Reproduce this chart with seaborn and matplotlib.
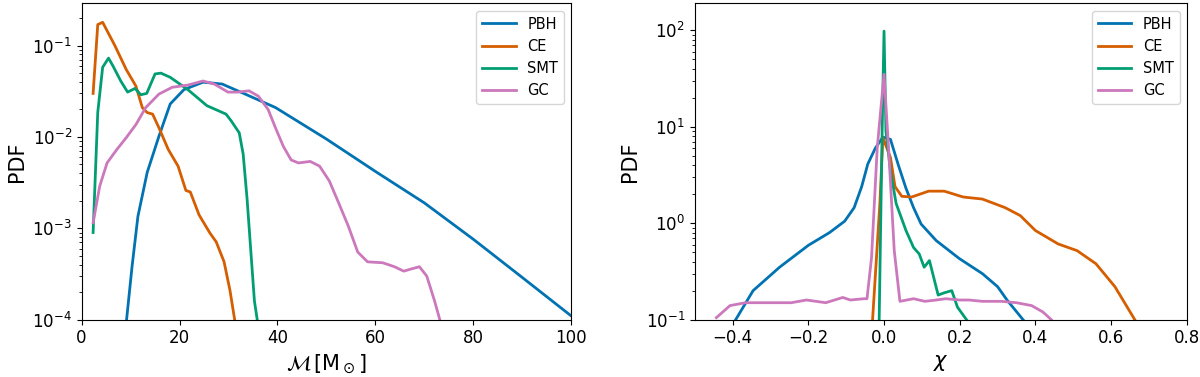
import numpy as np
import pandas as pd
import matplotlib
matplotlib.use("Agg")
import matplotlib.pyplot as plt
import seaborn as sns

# chirp mass distributions (M_sun, PDF)
pbh_m = [9.0, 10.3, 11.5, 13.4, 15.8, 18.1, 20.9, 24.8, 28.7, 33.4, 39.6, 50, 60, 70, 80, 90, 100]
pbh_pdf = [8e-5, 3.8e-4, 1.35e-3, 4.1e-3, 1.02e-2, 2.3e-2, 3.3e-2, 3.98e-2, 3.8e-2, 2.95e-2, 2.1e-2,
           9.5e-3, 4.2e-3, 1.9e-3, 7.6e-4, 2.9e-4, 1.1e-4]

ce_m = [2.35, 3.3, 4.3, 6.8, 9.1, 11.1, 12.4, 13.4, 14.5, 15.8, 17.7, 19.7, 21.3, 22.2, 24.0,
        26.2, 27.5, 29.1, 30.3, 31.4]
ce_pdf = [0.030, 0.17, 0.18, 0.10, 0.055, 0.036, 0.021, 0.0185, 0.0178, 0.0126, 0.0073, 0.0048,
          0.0026, 0.0025, 0.0014, 8.9e-4, 7.1e-4, 4.3e-4, 2.1e-4, 9e-5]

smt_m = [2.35, 3.3, 4.3, 5.5, 6.4, 8.0, 9.4, 10.9, 12.1, 13.3, 15.0, 16.2, 18.1, 21.7, 25.6,
         29.5, 30.6, 32.2, 33.0, 33.8, 34.6, 35.3, 36.0]
smt_pdf = [9e-4, 0.0186, 0.058, 0.073, 0.060, 0.041, 0.031, 0.034, 0.029, 0.030, 0.049, 0.050,
           0.045, 0.033, 0.022, 0.0178, 0.0149, 0.0111, 0.0065, 0.0021, 5.3e-4, 1.6e-4, 9e-5]

gc_m = [2.35, 3.7, 5.2, 7.2, 9.1, 11.1, 13.1, 15.8, 18.5, 21.7, 24.8, 27.1, 29.9, 31.8, 34.2,
        36.1, 38.1, 39.6, 41.2, 42.8, 44.3, 46.7, 48.6, 50.6, 52.5, 54.5, 56.4, 58.4, 61.5,
        63.9, 65.8, 67.4, 69.0, 70.5, 72.1, 73.4]
gc_pdf = [0.00115, 0.0029, 0.0052, 0.0073, 0.0098, 0.0137, 0.021, 0.0295, 0.035, 0.037, 0.041,
          0.038, 0.031, 0.031, 0.032, 0.028, 0.020, 0.0126, 0.0079, 0.0056, 0.0052, 0.0054,
          0.0048, 0.0033, 0.0019, 0.00105, 5.5e-4, 4.3e-4, 4.2e-4, 3.8e-4, 3.4e-4, 3.6e-4,
          3.8e-4, 3.0e-4, 1.6e-4, 9e-5]

# effective spin distributions (chi, PDF)
pbh_chi = [-0.392, -0.346, -0.276, -0.20, -0.144, -0.104, -0.079, -0.059, -0.043, -0.023, -0.003,
           0.017, 0.037, 0.058, 0.078, 0.098, 0.138, 0.199, 0.26, 0.30, 0.326, 0.372]
pbh_chi_pdf = [0.1, 0.20, 0.35, 0.59, 0.80, 1.05, 1.45, 2.4, 4.1, 6.0, 7.8, 7.4, 4.1, 2.3, 1.45,
               0.98, 0.66, 0.43, 0.30, 0.22, 0.158, 0.095]

ce_chi = [-0.031, -0.021, -0.011, -0.003, 0.017, 0.029, 0.047, 0.073, 0.118, 0.159, 0.209, 0.26,
          0.32, 0.36, 0.40, 0.46, 0.51, 0.56, 0.61, 0.666]
ce_chi_pdf = [0.09, 0.38, 1.6, 7.7, 4.8, 2.4, 1.9, 1.87, 2.15, 2.15, 1.87, 1.78, 1.45, 1.2, 0.84,
              0.61, 0.52, 0.38, 0.22, 0.095]

smt_chi = [-0.013, -0.005, 0.0, 0.005, 0.017, 0.032, 0.058, 0.078, 0.093, 0.106, 0.12, 0.143,
           0.159, 0.179, 0.194, 0.222]
smt_chi_pdf = [0.09, 9.0, 98, 9.0, 3.5, 1.6, 0.84, 0.56, 0.48, 0.35, 0.41, 0.18, 0.19, 0.20,
               0.135, 0.095]

gc_chi = [-0.443, -0.407, -0.366, -0.306, -0.245, -0.205, -0.154, -0.109, -0.089, -0.053, -0.045,
          -0.033, -0.018, 0.0, 0.012, 0.027, 0.042, 0.078, 0.108, 0.138, 0.163, 0.199, 0.224,
          0.26, 0.31, 0.35, 0.39, 0.42, 0.442]
gc_chi_pdf = [0.105, 0.14, 0.15, 0.15, 0.15, 0.16, 0.15, 0.17, 0.16, 0.165, 0.165, 0.44, 6.0, 35,
              6.0, 0.52, 0.155, 0.165, 0.155, 0.16, 0.165, 0.16, 0.16, 0.155, 0.155, 0.15, 0.14,
              0.12, 0.1]

labels = ["PBH", "CE", "SMT", "GC"]

pal = sns.color_palette("colorblind")
colors = {"PBH": pal[0], "CE": pal[3], "SMT": pal[2], "GC": pal[4]}

mass_data = {"PBH": (pbh_m, pbh_pdf), "CE": (ce_m, ce_pdf),
             "SMT": (smt_m, smt_pdf), "GC": (gc_m, gc_pdf)}
spin_data = {"PBH": (pbh_chi, pbh_chi_pdf), "CE": (ce_chi, ce_chi_pdf),
             "SMT": (smt_chi, smt_chi_pdf), "GC": (gc_chi, gc_chi_pdf)}

fig = plt.figure(figsize=(12, 3.77), dpi=100)
ax1 = fig.add_axes([0.068, 0.152, 0.408, 0.839])
ax2 = fig.add_axes([0.579, 0.152, 0.410, 0.839])

for name in labels:
    x, y = mass_data[name]
    sns.lineplot(x=x, y=y, ax=ax1, color=colors[name], lw=2, label=name,
                 estimator=None, sort=False)
    x, y = spin_data[name]
    sns.lineplot(x=x, y=y, ax=ax2, color=colors[name], lw=2, label=name,
                 estimator=None, sort=False)

ax1.set_yscale("log")
ax1.set_xlim(0, 100)
ax1.set_ylim(1e-4, 0.29)
ax1.set_xlabel(r"$\mathcal{M}\,[\mathrm{M}_\odot]$", fontsize=15)
ax1.set_ylabel("PDF", fontsize=15)

ax2.set_yscale("log")
ax2.set_xlim(-0.5, 0.8)
ax2.set_ylim(0.1, 190)
ax2.set_xlabel(r"$\chi$", fontsize=15)
ax2.set_ylabel("PDF", fontsize=15)

for ax in (ax1, ax2):
    ax.tick_params(labelsize=12)
    ax.legend(loc="upper right", fontsize=10.5, handlelength=2.3)

fig.savefig("out.png", dpi=100)
